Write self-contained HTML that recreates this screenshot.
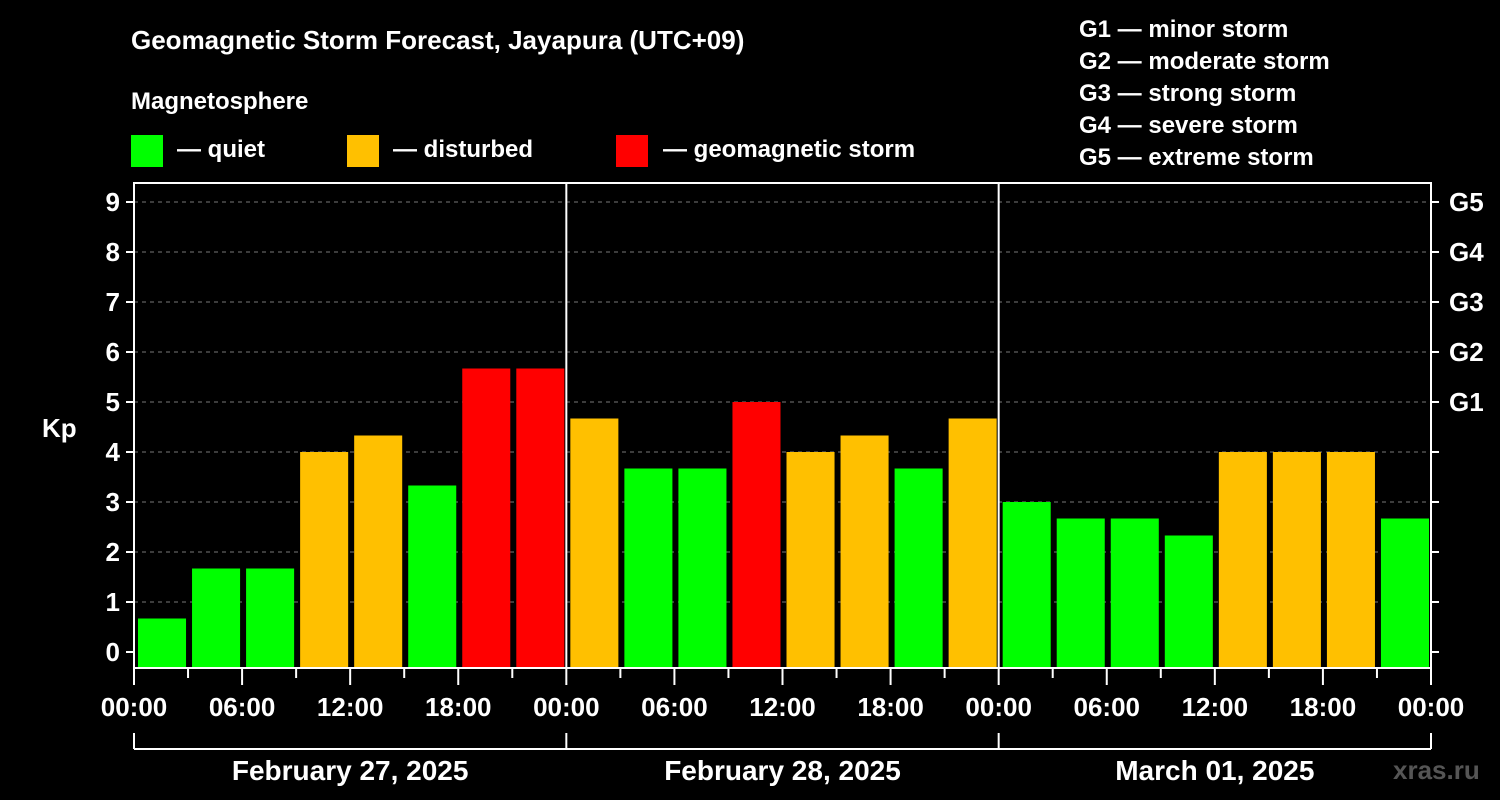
<!DOCTYPE html>
<html><head><meta charset="utf-8"><style>
html,body{margin:0;padding:0;background:#000;}
svg{display:block;font-family:"Liberation Sans",Arial,sans-serif;font-weight:bold;}
</style></head><body>
<svg id="chart" width="1500" height="800" viewBox="0 0 1500 800">
<rect width="1500" height="800" fill="#000"/>
<text x="131" y="49" fill="#fff" font-size="26">Geomagnetic Storm Forecast, Jayapura (UTC+09)</text>
<text x="131" y="109" fill="#fff" font-size="24">Magnetosphere</text>
<g><rect x="131" y="135" width="32" height="32" fill="#00ff00"/><text x="177" y="157" fill="#fff" font-size="24">— quiet</text></g>
<g><rect x="347" y="135" width="32" height="32" fill="#ffc000"/><text x="393" y="157" fill="#fff" font-size="24">— disturbed</text></g>
<g><rect x="616" y="135" width="32" height="32" fill="#ff0000"/><text x="663" y="157" fill="#fff" font-size="24">— geomagnetic storm</text></g>
<g fill="#fff" font-size="24">
<text x="1079" y="37">G1 — minor storm</text>
<text x="1079" y="69">G2 — moderate storm</text>
<text x="1079" y="101">G3 — strong storm</text>
<text x="1079" y="133">G4 — severe storm</text>
<text x="1079" y="165">G5 — extreme storm</text>
</g>
<text x="42" y="437" fill="#fff" font-size="26">Kp</text>
<text x="1393" y="779" fill="#555" font-size="26">xras.ru</text>
<g id="grid"></g><g id="bars"></g><g id="axes"></g>
</svg>
<script>
const kpValues=[0.67,1.67,1.67,4,4.33,3.33,5.67,5.67,4.67,3.67,3.67,5,4,4.33,3.67,4.67,3,2.67,2.67,2.33,4,4,4,2.67];
const barLevels=["q","q","q","d","d","q","s","s","d","q","q","s","d","d","q","d","q","q","q","q","d","d","d","q"];
const yTicks=[0,1,2,3,4,5,6,7,8,9];
const gLabels=["G1","G2","G3","G4","G5"];
const xTickLabels=["00:00","06:00","12:00","18:00","00:00","06:00","12:00","18:00","00:00","06:00","12:00","18:00","00:00"];
const dayLabels=["February 27, 2025","February 28, 2025","March 01, 2025"];
const colors={q:"#00ff00",d:"#ffc000",s:"#ff0000"};
const NS="http://www.w3.org/2000/svg";
const L=134,R=1431,T=183,B=668;
const y=v=>652-v*50;
const slot=(R-L)/kpValues.length;
const x=i=>L+i*slot;
function mk(tag,attrs,parent){const e=document.createElementNS(NS,tag);for(const k in attrs)e.setAttribute(k,attrs[k]);parent.appendChild(e);return e;}
const grid=document.getElementById('grid'),bars=document.getElementById('bars'),axes=document.getElementById('axes');
yTicks.forEach(v=>{
 if(v>0){const gl=mk('line',{x1:L,x2:R,y1:y(v),y2:y(v),stroke:'#777','stroke-dasharray':'4,4','stroke-width':1},grid);
 
 }
 mk('line',{x1:L-8,x2:L,y1:y(v),y2:y(v),stroke:'#fff','stroke-width':2},axes);
 mk('line',{x1:R,x2:R+8,y1:y(v),y2:y(v),stroke:'#fff','stroke-width':2},axes);
 const t=mk('text',{x:L-14,y:y(v)+9,fill:'#fff','font-size':26,'text-anchor':'end'},axes);t.textContent=v;
 
 
});
gLabels.forEach((g,i)=>{const t=mk('text',{x:R+18,y:y(5+i)+9,fill:'#fff','font-size':26},axes);t.textContent=g;
 
 });
kpValues.forEach((v,i)=>{
 const r=mk('rect',{x:x(i)+4,y:y(v),width:slot-6,height:B-y(v),fill:colors[barLevels[i]]},bars);
 
 
});
mk('rect',{x:L,y:T,width:R-L,height:B-T,fill:'none',stroke:'#fff','stroke-width':2},axes);
[1,2].forEach(d=>mk('line',{x1:x(d*8),x2:x(d*8),y1:T,y2:B,stroke:'#fff','stroke-width':2},axes));
for(let i=0;i<=24;i++){mk('line',{x1:x(i),x2:x(i),y1:B,y2:B+(i%2?10:17),stroke:'#fff','stroke-width':2},axes);}
xTickLabels.forEach((s,i)=>{const t=mk('text',{x:x(i*2),y:716,fill:'#fff','font-size':26,'text-anchor':'middle'},axes);t.textContent=s;
 
 });
mk('line',{x1:L,x2:R,y1:749,y2:749,stroke:'#fff','stroke-width':2},axes);
for(let d=0;d<=3;d++)mk('line',{x1:x(d*8),x2:x(d*8),y1:733,y2:749,stroke:'#fff','stroke-width':2},axes);
dayLabels.forEach((s,d)=>{const t=mk('text',{x:(x(d*8)+x(d*8+8))/2,y:780,fill:'#fff','font-size':28,'text-anchor':'middle'},axes);t.textContent=s;
 
 });
</script>
</body></html>
